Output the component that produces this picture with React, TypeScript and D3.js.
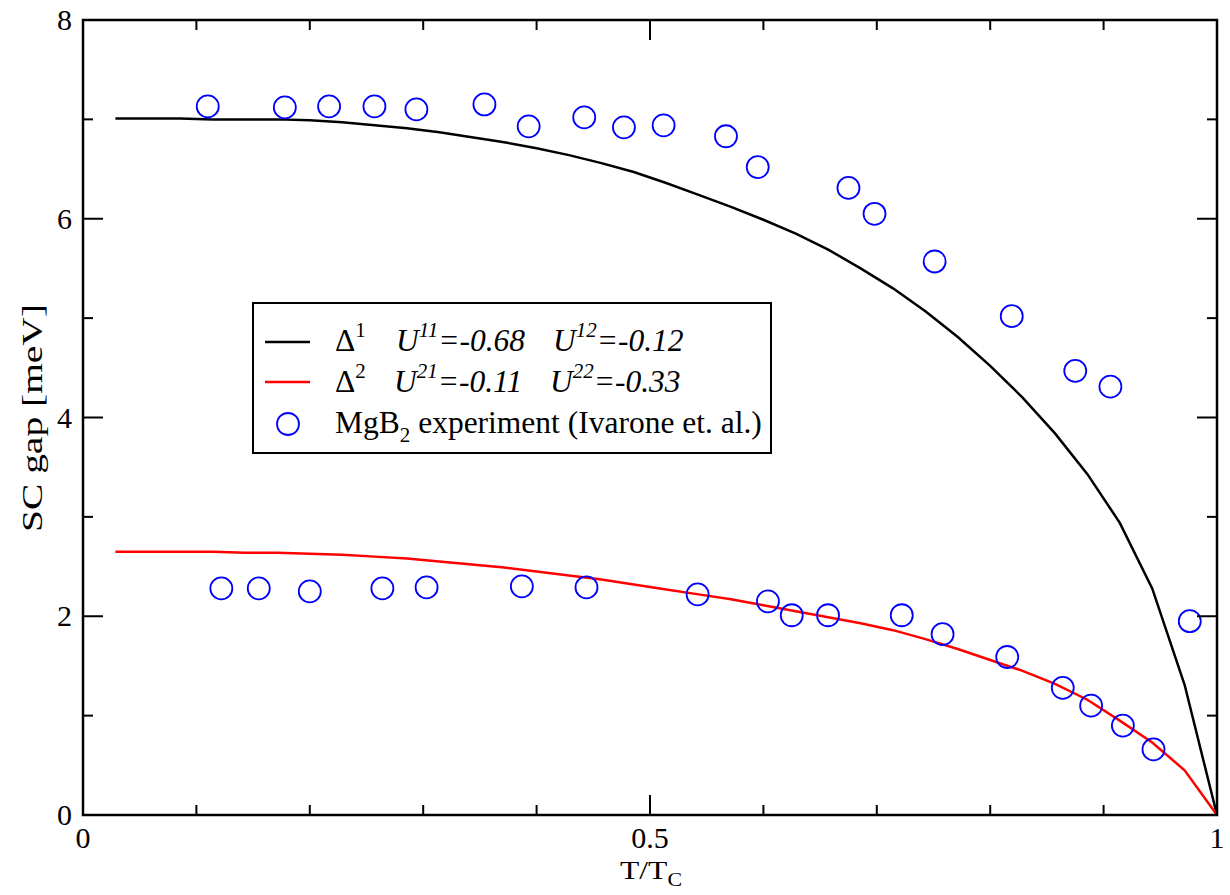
import React from "react";
import * as d3 from "d3";

// Model curves sampled at T/Tc = k/35
const modelT: number[] = Array.from({ length: 35 }, (_, i) => (i + 1) / 35);
const delta1: number[] = [
  7.01, 7.01, 7.01, 7.0, 7.0, 7.0, 6.99, 6.97, 6.94, 6.91,
  6.87, 6.82, 6.77, 6.71, 6.64, 6.56, 6.47, 6.36, 6.24, 6.12,
  5.99, 5.85, 5.69, 5.5, 5.3, 5.07, 4.81, 4.52, 4.2, 3.84,
  3.43, 2.94, 2.28, 1.31, 0.0,
];
const delta2: number[] = [
  2.65, 2.65, 2.65, 2.65, 2.64, 2.64, 2.63, 2.62, 2.6, 2.58,
  2.55, 2.52, 2.49, 2.45, 2.41, 2.37, 2.32, 2.27, 2.22, 2.17,
  2.11, 2.05, 1.99, 1.93, 1.86, 1.77, 1.67, 1.56, 1.45, 1.32,
  1.16, 0.95, 0.73, 0.45, 0.0,
];

// Experiment (upper gap)
const expUpperT: number[] = [
  0.11, 0.178, 0.217, 0.257, 0.294, 0.354, 0.393, 0.442, 0.477, 0.512,
  0.567, 0.595, 0.675, 0.698, 0.751, 0.819, 0.875, 0.906, 0.976,
];
const expUpperGap: number[] = [
  7.13, 7.12, 7.13, 7.13, 7.1, 7.15, 6.93, 7.02, 6.92, 6.94,
  6.83, 6.52, 6.31, 6.05, 5.57, 5.02, 4.47, 4.31, 1.95,
];
// Experiment (lower gap)
const expLowerT: number[] = [
  0.122, 0.155, 0.2, 0.264, 0.303, 0.387, 0.444, 0.542, 0.604, 0.625,
  0.657, 0.722, 0.758, 0.815, 0.864, 0.889, 0.917, 0.944,
];
const expLowerGap: number[] = [
  2.28, 2.28, 2.25, 2.28, 2.29, 2.3, 2.29, 2.22, 2.15, 2.01,
  2.01, 2.01, 1.82, 1.59, 1.28, 1.1, 0.9, 0.66,
];

const xMajorTicks: number[] = [0, 0.5, 1];
const xMinorTicks: number[] = [0.1, 0.2, 0.3, 0.4, 0.6, 0.7, 0.8, 0.9];
const xTickLabels: string[] = ["0", "0.5", "1"];
const yMajorTicks: number[] = [0, 2, 4, 6, 8];
const yMinorTicks: number[] = [1, 3, 5, 7];
const yTickLabels: string[] = ["0", "2", "4", "6", "8"];

const W = 1230;
const H = 895;
const L = 83, R = 1217, T = 20, B = 815;
const FONT = "'Liberation Serif', 'Times New Roman', serif";

export default function App() {
  const x = d3.scaleLinear().domain([0, 1]).range([L, R]);
  const y = d3.scaleLinear().domain([0, 8]).range([B, T]);

  const line = d3
    .line<[number, number]>()
    .x((d) => x(d[0]))
    .y((d) => y(d[1]));

  const d1 = line(modelT.map((t, i) => [t, delta1[i]] as [number, number])) || "";
  const d2 = line(modelT.map((t, i) => [t, delta2[i]] as [number, number])) || "";

  const circles: [number, number][] = [
    ...expUpperT.map((t, i) => [t, expUpperGap[i]] as [number, number]),
    ...expLowerT.map((t, i) => [t, expLowerGap[i]] as [number, number]),
  ];

  const majorLen = 20;
  const minorLen = 10;
  const tickStroke = { stroke: "#000", strokeWidth: 2 };
  const LF = 31.5;
  const SF = 21;

  return (
    <svg
      width={W}
      height={H}
      style={{ position: "absolute", left: 0, top: 0, background: "#fff" }}
      fontFamily={FONT}
    >
      <rect x={0} y={0} width={W} height={H} fill="#fff" />
      {/* curves */}
      <path d={d1} fill="none" stroke="#000" strokeWidth={2.5} />
      <path d={d2} fill="none" stroke="#ff0000" strokeWidth={2.5} />
      {/* experiment */}
      {circles.map((c, i) => (
        <circle
          key={i}
          cx={x(c[0])}
          cy={y(c[1])}
          r={11}
          fill="none"
          stroke="#0000ff"
          strokeWidth={1.8}
        />
      ))}
      {/* ticks */}
      {xMajorTicks.map((t, i) => (
        <g key={"xM" + i}>
          <line x1={x(t)} x2={x(t)} y1={B} y2={B - majorLen} {...tickStroke} />
          <line x1={x(t)} x2={x(t)} y1={T} y2={T + majorLen} {...tickStroke} />
          <text x={x(t)} y={848} fontSize={30} textAnchor="middle" fill="#000">
            {xTickLabels[i]}
          </text>
        </g>
      ))}
      {xMinorTicks.map((t, i) => (
        <g key={"xm" + i}>
          <line x1={x(t)} x2={x(t)} y1={B} y2={B - minorLen} {...tickStroke} />
          <line x1={x(t)} x2={x(t)} y1={T} y2={T + minorLen} {...tickStroke} />
        </g>
      ))}
      {yMajorTicks.map((t, i) => (
        <g key={"yM" + i}>
          <line x1={L} x2={L + majorLen} y1={y(t)} y2={y(t)} {...tickStroke} />
          <line x1={R} x2={R - majorLen} y1={y(t)} y2={y(t)} {...tickStroke} />
          <text x={72} y={y(t) + 10} fontSize={30} textAnchor="end" fill="#000">
            {yTickLabels[i]}
          </text>
        </g>
      ))}
      {yMinorTicks.map((t, i) => (
        <g key={"ym" + i}>
          <line x1={L} x2={L + minorLen} y1={y(t)} y2={y(t)} {...tickStroke} />
          <line x1={R} x2={R - minorLen} y1={y(t)} y2={y(t)} {...tickStroke} />
        </g>
      ))}
      {/* frame */}
      <rect x={L} y={T} width={R - L} height={B - T} fill="none" stroke="#000" strokeWidth={2.5} />

      {/* axis titles */}
      <text
        x={620}
        y={879}
        fontSize={26}
        fill="#000"
        textLength={62}
        lengthAdjust="spacingAndGlyphs"
      >
        T/T<tspan fontSize={18} dy={7}>C</tspan>
      </text>
      <text
        transform={`translate(42,532) rotate(-90)`}
        x={0}
        y={0}
        fontSize={30}
        fill="#000"
        textLength={228}
        lengthAdjust="spacingAndGlyphs"
      >
        SC gap [meV]
      </text>

      {/* legend */}
      <rect x={253} y={303} width={518} height={150} fill="#fff" stroke="#000" strokeWidth={2} />
      <line x1={265} x2={310} y1={342} y2={342} stroke="#000" strokeWidth={2.5} />
      <line x1={265} x2={310} y1={382} y2={382} stroke="#ff0000" strokeWidth={2.5} />
      <circle cx={288} cy={424} r={11} fill="none" stroke="#0000ff" strokeWidth={1.8} />

      <text y={351} fontSize={LF} fill="#000">
        <tspan x={335}>Δ</tspan>
        <tspan fontSize={SF} dy={-14}>1</tspan>
        <tspan x={396} dy={14} fontStyle="italic">U</tspan>
        <tspan fontSize={SF} dy={-14} fontStyle="italic">11</tspan>
        <tspan dy={14} fontStyle="italic">=-0.68</tspan>
        <tspan x={553} fontStyle="italic">U</tspan>
        <tspan fontSize={SF} dy={-14} fontStyle="italic">12</tspan>
        <tspan dy={14} fontStyle="italic">=-0.12</tspan>
      </text>
      <text y={392} fontSize={LF} fill="#000">
        <tspan x={335}>Δ</tspan>
        <tspan fontSize={SF} dy={-14}>2</tspan>
        <tspan x={394} dy={14} fontStyle="italic">U</tspan>
        <tspan fontSize={SF} dy={-14} fontStyle="italic">21</tspan>
        <tspan dy={14} fontStyle="italic">=-0.11</tspan>
        <tspan x={550} fontStyle="italic">U</tspan>
        <tspan fontSize={SF} dy={-14} fontStyle="italic">22</tspan>
        <tspan dy={14} fontStyle="italic">=-0.33</tspan>
      </text>
      <text y={433} fontSize={LF} fill="#000">
        <tspan x={335}>MgB</tspan>
        <tspan fontSize={SF} dy={9}>2</tspan>
        <tspan dy={-9}> experiment (Ivarone et. al.)</tspan>
      </text>
    </svg>
  );
}
